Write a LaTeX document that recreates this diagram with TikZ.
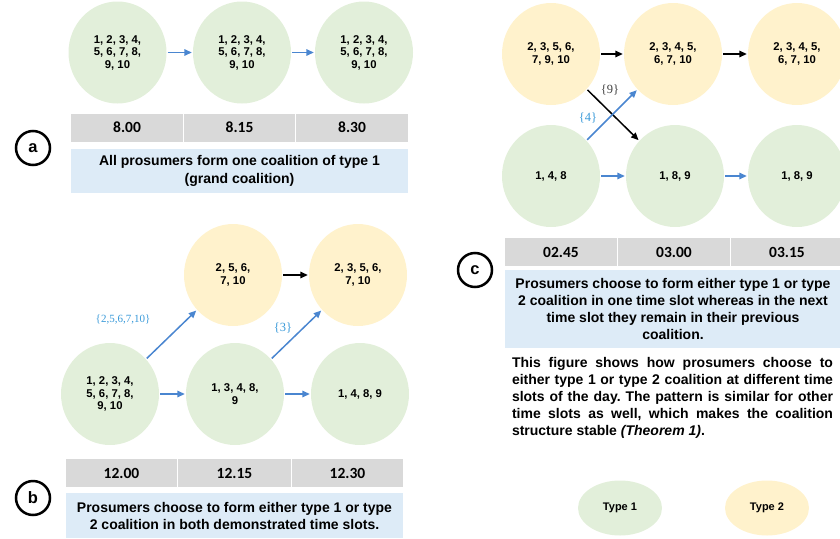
\documentclass[tikz,border=0pt]{standalone}
\usepackage{fontspec}
\setmainfont{Liberation Sans}
\newfontfamily\calfont{Carlito}
\newfontfamily\serfont{Liberation Serif}
\usetikzlibrary{arrows.meta,shapes.geometric}
\definecolor{gfill}{HTML}{E2EFDA}
\definecolor{yfill}{HTML}{FFF2CC}
\definecolor{slotgray}{HTML}{D9D9D9}
\definecolor{bluebox}{HTML}{DDEBF7}
\definecolor{arrowblue}{HTML}{4A86D0}
\definecolor{lblblue}{HTML}{3A9AD9}
\definecolor{lblgray}{HTML}{404040}
\frenchspacing
\begin{document}
\begin{tikzpicture}[x=1pt,y=-1pt,
  coal/.style={ellipse, minimum width=98pt, minimum height=102pt, inner sep=0pt, align=center,
    font=\bfseries\fontsize{11.3}{12.5}\selectfont},
  gc/.style={coal, fill=gfill},
  yc/.style={coal, fill=yfill},
  slot/.style={fill=slotgray, minimum height=28pt, inner sep=0pt,
    font=\calfont\bfseries\fontsize{15.5}{17}\selectfont},
  descbox/.style={fill=bluebox, inner sep=0pt, align=center,
    font=\bfseries\fontsize{14}{17}\selectfont},
  tag/.style={circle, draw=black, line width=2.5pt, minimum size=34pt, inner sep=0pt,
    font=\bfseries\fontsize{16.5}{18}\selectfont},
  barrow/.style={-{Triangle[length=7.5pt,width=6.5pt]}, line width=1.5pt, draw=arrowblue, shorten >=1pt, shorten <=1pt},
  karrow/.style={-{Triangle[length=7.5pt,width=6.5pt]}, line width=1.5pt, draw=black, shorten >=1pt, shorten <=1pt},
  lbl/.style={font=\serfont\fontsize{12.5}{14}\selectfont, inner sep=0pt},
  legend/.style={ellipse, minimum width=84pt, minimum height=55pt, inner sep=0pt,
    font=\bfseries\fontsize{11}{13}\selectfont}
]
\useasboundingbox (0,0) rectangle (840,538);
\clip (0,0) rectangle (840,538);

% ---------- panel a ----------
\node[gc] (a1) at (117.5,52.5) {1, 2, 3, 4,\\5, 6, 7, 8,\\9, 10};
\node[gc] (a2) at (242,52.5) {1, 2, 3, 4,\\5, 6, 7, 8,\\9, 10};
\node[gc] (a3) at (364,52.5) {1, 2, 3, 4,\\5, 6, 7, 8,\\9, 10};
\draw[barrow] (a1) -- (a2);
\draw[barrow] (a2) -- (a3);
\node[slot, minimum width=112pt] (as1) at (127,127.5) {8.00};
\node[slot, minimum width=111pt] (as2) at (239.5,127.5) {8.15};
\node[slot, minimum width=112pt] (as3) at (352,127.5) {8.30};
\node[descbox, minimum width=337pt, minimum height=44pt] (ad) at (239.5,171)
  {All prosumers form one coalition of type 1\\[1pt](grand coalition)};
\node[tag] (ta) at (33,148) {a};

% ---------- panel b ----------
\node[yc] (by1) at (233,275) {2, 5, 6,\\7, 10};
\node[yc] (by2) at (358,275) {2, 3, 5, 6,\\7, 10};
\node[gc] (bg1) at (110,394) {1, 2, 3, 4,\\5, 6, 7, 8,\\9, 10};
\node[gc] (bg2) at (235,394) {1, 3, 4, 8,\\9};
\node[gc] (bg3) at (360,394) {1, 4, 8, 9};
\draw[karrow] (by1) -- (by2);
\draw[barrow] (bg1) -- (bg2);
\draw[barrow] (bg2) -- (bg3);
\draw[barrow] (bg1) -- (by1);
\draw[barrow] (bg2) -- (by2);
\node[lbl, text=lblblue, font=\serfont\fontsize{11}{13}\selectfont] (l1) at (123,320) {\{2,5,6,7,10\}};
\node[lbl, text=lblblue] (l2) at (283,328) {\{3\}};
\node[slot, minimum width=111pt] (bs1) at (121.5,473) {12.00};
\node[slot, minimum width=113pt] (bs2) at (234.5,473) {12.15};
\node[slot, minimum width=111pt] (bs3) at (347.5,473) {12.30};
\node[descbox, minimum width=337pt, minimum height=45pt] (bd) at (234.5,515.5)
  {Prosumers choose to form either type 1 or type\\2 coalition in both demonstrated time slots.};
\node[tag] (tb) at (33,498) {b};

% ---------- panel c ----------
\node[yc] (cy1) at (551,54) {2, 3, 5, 6,\\7, 9, 10};
\node[yc] (cy2) at (673,54) {2, 3, 4, 5,\\6, 7, 10};
\node[yc] (cy3) at (797,54) {2, 3, 4, 5,\\6, 7, 10};
\node[gc] (cg1) at (551,176) {1, 4, 8};
\node[gc] (cg2) at (675,176) {1, 8, 9};
\node[gc] (cg3) at (797,176) {1, 8, 9};
\draw[karrow] (cy1) -- (cy2);
\draw[karrow] (cy2) -- (cy3);
\draw[barrow] (cg1) -- (cg2);
\draw[barrow] (cg2) -- (cg3);
\draw[karrow] (cy1) -- (cg2);
\draw[barrow] (cg1) -- (cy2);
\node[lbl, text=lblgray] (l9) at (610,90) {\{9\}};
\node[lbl, text=lblblue] (l4) at (588,118) {\{4\}};
\node[slot, minimum width=112pt] (cs1) at (561,252) {02.45};
\node[slot, minimum width=112pt] (cs2) at (674,252) {03.00};
\node[slot, minimum width=112pt] (cs3) at (787,252) {03.15};
\node[descbox, minimum width=336pt, minimum height=78pt] (cd) at (673,309)
  {Prosumers choose to form either type 1 or type\\2 coalition in one time slot whereas in the next\\time slot they remain in their previous\\coalition.};
\node[tag] (tc) at (475,270) {c};
\node[inner sep=0pt, align=left, font=\bfseries\fontsize{14}{17}\selectfont] (para) at (672.5,398)
  {\makebox[321pt][s]{This figure shows how prosumers choose to}\\
   \makebox[321pt][s]{either type 1 or type 2 coalition at different time}\\
   \makebox[321pt][s]{slots of the day. The pattern is similar for other}\\
   \makebox[321pt][s]{time slots as well, which makes the coalition}\\
   \makebox[321pt][l]{structure stable \textit{(Theorem 1)}.}};

% ---------- legend ----------
\node[legend, fill=gfill] (t1) at (620,508) {Type 1};
\node[legend, fill=yfill] (t2) at (767,508) {Type 2};
\end{tikzpicture}
\end{document}
